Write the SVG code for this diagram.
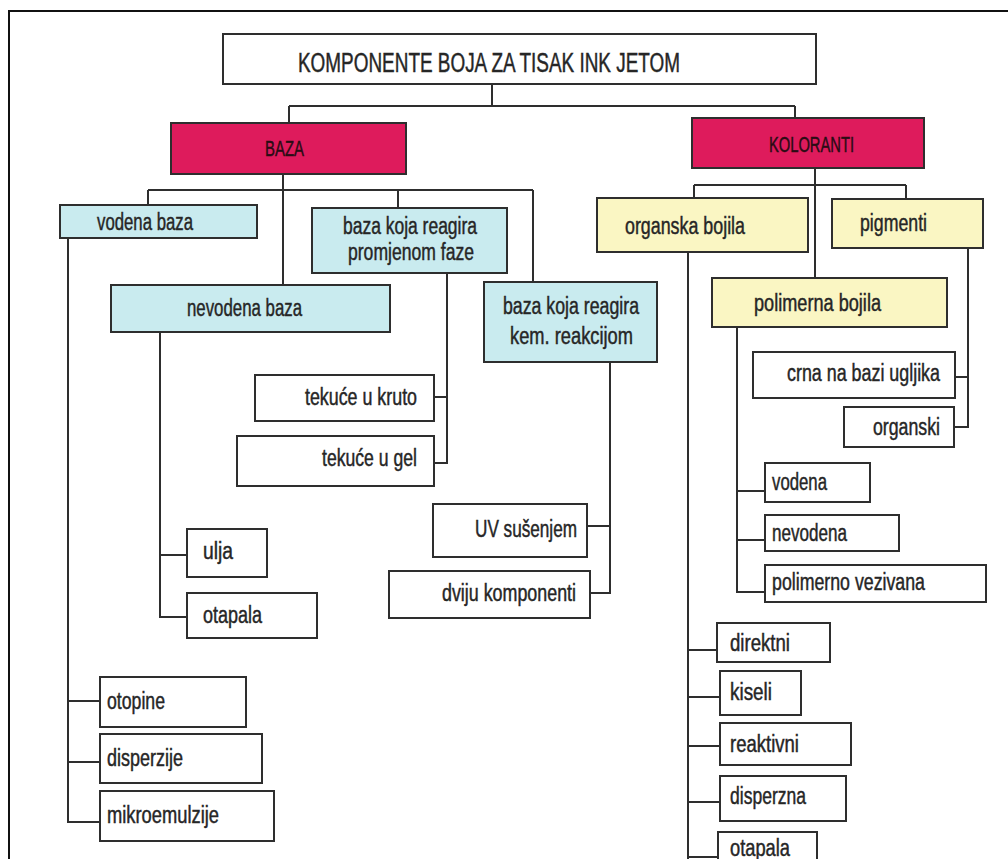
<svg xmlns="http://www.w3.org/2000/svg" width="1008" height="859" viewBox="0 0 1008 859">
<style>
.bx{stroke:#2e2e2e;stroke-width:2}
.w{fill:#ffffff}
.r{fill:#de1b5c}
.b{fill:#c9ebef}
.y{fill:#faf6c3}
text{font-family:"Liberation Sans",Arial,sans-serif;font-size:23px;fill:#262626;stroke:#262626;stroke-width:0.45}
.t{font-size:27px}
.h{font-size:22px;fill:#2a0c14;stroke:#2a0c14}
.c{fill:none;stroke:#2e2e2e;stroke-width:2}
</style>
<rect x="0" y="0" width="1008" height="859" fill="#ffffff"/>
<path d="M9,859 V11 H1008" fill="none" stroke="#111" stroke-width="2"/>
<g id="connectors" class="c">
<path d="M492,84 V106 M289,106 H795 M289,106 V123 M795,106 V118"/>
<path d="M283,174 V285 M148,190 H533 M148,190 V205 M398,190 V208 M533,190 V282"/>
<path d="M68,238 V822 H100 M68,701 H100 M68,762 H100"/>
<path d="M160,332 V617 H187 M160,555 H187"/>
<path d="M447,273 V463 H434 M447,397 H434"/>
<path d="M610,362 V593 H590 M610,526 H587"/>
<path d="M815,168 V278 M694,185 H906 M694,185 V198 M906,185 V199"/>
<path d="M688,252 V859 M688,650 H717 M688,697 H720 M688,746 H720 M688,802 H720 M688,857 H718"/>
<path d="M737,327 V592 H765 M737,491 H765 M737,540 H765"/>
<path d="M968,248 V427 H954 M968,377 H955"/>
</g>
<g id="title"><rect class="bx w" x="223" y="34" width="593" height="50"/><text class="t" x="298" y="72" textLength="382" lengthAdjust="spacingAndGlyphs">KOMPONENTE BOJA ZA TISAK  INK JETOM</text></g>
<g id="baza"><rect class="bx r" x="171" y="123" width="235" height="51"/><text class="h" x="265" y="156" textLength="39" lengthAdjust="spacingAndGlyphs">BAZA</text></g>
<g id="koloranti"><rect class="bx r" x="692" y="118" width="232" height="50"/><text class="h" x="769" y="152" textLength="85" lengthAdjust="spacingAndGlyphs">KOLORANTI</text></g>
<g id="vodena-baza"><rect class="bx b" x="60" y="205" width="197" height="33"/><text x="97" y="230" textLength="96" lengthAdjust="spacingAndGlyphs">vodena baza</text></g>
<g id="promjena-faze"><rect class="bx b" x="312" y="208" width="195" height="65"/><text x="343" y="234" textLength="134" lengthAdjust="spacingAndGlyphs">baza koja reagira</text><text x="348" y="260" textLength="126" lengthAdjust="spacingAndGlyphs">promjenom faze</text></g>
<g id="nevodena-baza"><rect class="bx b" x="111" y="285" width="279" height="47"/><text x="187" y="316" textLength="115" lengthAdjust="spacingAndGlyphs">nevodena baza</text></g>
<g id="kem-reakcija"><rect class="bx b" x="484" y="282" width="173" height="80"/><text x="503" y="314" textLength="136" lengthAdjust="spacingAndGlyphs">baza koja reagira</text><text x="510" y="344" textLength="123" lengthAdjust="spacingAndGlyphs">kem. reakcijom</text></g>
<g id="tekuce-kruto"><rect class="bx w" x="255" y="375" width="179" height="46"/><text x="305" y="405" textLength="112" lengthAdjust="spacingAndGlyphs">tekuće u kruto</text></g>
<g id="tekuce-gel"><rect class="bx w" x="237" y="436" width="197" height="50"/><text x="322" y="466" textLength="95" lengthAdjust="spacingAndGlyphs">tekuće u gel</text></g>
<g id="ulja"><rect class="bx w" x="187" y="529" width="80" height="48"/><text x="203" y="559" textLength="30" lengthAdjust="spacingAndGlyphs">ulja</text></g>
<g id="otapala-1"><rect class="bx w" x="187" y="593" width="130" height="45"/><text x="203" y="623" textLength="59" lengthAdjust="spacingAndGlyphs">otapala</text></g>
<g id="uv"><rect class="bx w" x="433" y="504" width="154" height="53"/><text x="475" y="537" textLength="102" lengthAdjust="spacingAndGlyphs">UV sušenjem</text></g>
<g id="dviju"><rect class="bx w" x="389" y="571" width="201" height="47"/><text x="442" y="601" textLength="134" lengthAdjust="spacingAndGlyphs">dviju komponenti</text></g>
<g id="otopine"><rect class="bx w" x="100" y="677" width="146" height="50"/><text x="107" y="709" textLength="58" lengthAdjust="spacingAndGlyphs">otopine</text></g>
<g id="disperzije"><rect class="bx w" x="100" y="734" width="162" height="49"/><text x="107" y="766" textLength="76" lengthAdjust="spacingAndGlyphs">disperzije</text></g>
<g id="mikroemulzije"><rect class="bx w" x="100" y="791" width="174" height="50"/><text x="107" y="823" textLength="112" lengthAdjust="spacingAndGlyphs">mikroemulzije</text></g>
<g id="organska-bojila"><rect class="bx y" x="597" y="198" width="211" height="54"/><text x="625" y="234" textLength="120" lengthAdjust="spacingAndGlyphs">organska bojila</text></g>
<g id="pigmenti"><rect class="bx y" x="832" y="199" width="151" height="49"/><text x="860" y="231" textLength="67" lengthAdjust="spacingAndGlyphs">pigmenti</text></g>
<g id="polimerna-bojila"><rect class="bx y" x="712" y="278" width="235" height="49"/><text x="754" y="311" textLength="127" lengthAdjust="spacingAndGlyphs">polimerna bojila</text></g>
<g id="crna"><rect class="bx w" x="753" y="352" width="202" height="46"/><text x="787" y="381" textLength="153" lengthAdjust="spacingAndGlyphs">crna na bazi ugljika</text></g>
<g id="organski"><rect class="bx w" x="844" y="407" width="110" height="40"/><text x="873" y="435" textLength="67" lengthAdjust="spacingAndGlyphs">organski</text></g>
<g id="vodena"><rect class="bx w" x="765" y="463" width="105" height="39"/><text x="772" y="490" textLength="55" lengthAdjust="spacingAndGlyphs">vodena</text></g>
<g id="nevodena"><rect class="bx w" x="765" y="515" width="134" height="36"/><text x="772" y="541" textLength="75" lengthAdjust="spacingAndGlyphs">nevodena</text></g>
<g id="polimerno-vezivana"><rect class="bx w" x="765" y="565" width="221" height="37"/><text x="772" y="590" textLength="153" lengthAdjust="spacingAndGlyphs">polimerno vezivana</text></g>
<g id="direktni"><rect class="bx w" x="717" y="623" width="113" height="39"/><text x="730" y="651" textLength="60" lengthAdjust="spacingAndGlyphs">direktni</text></g>
<g id="kiseli"><rect class="bx w" x="720" y="671" width="81" height="44"/><text x="730" y="700" textLength="42" lengthAdjust="spacingAndGlyphs">kiseli</text></g>
<g id="reaktivni"><rect class="bx w" x="720" y="723" width="131" height="42"/><text x="730" y="752" textLength="69" lengthAdjust="spacingAndGlyphs">reaktivni</text></g>
<g id="disperzna"><rect class="bx w" x="720" y="776" width="126" height="45"/><text x="730" y="804" textLength="76" lengthAdjust="spacingAndGlyphs">disperzna</text></g>
<g id="otapala-2"><rect class="bx w" x="718" y="832" width="99" height="44"/><text x="730" y="856" textLength="60" lengthAdjust="spacingAndGlyphs">otapala</text></g>
</svg>
